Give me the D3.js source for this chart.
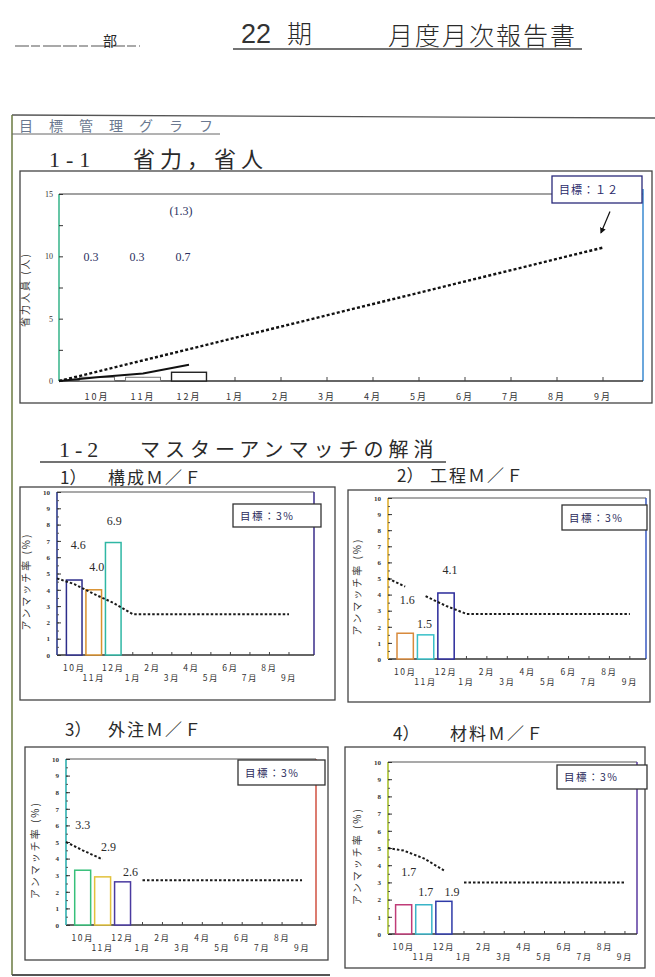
<!DOCTYPE html>
<html>
<head>
<meta charset="utf-8">
<script src="https://cdn.jsdelivr.net/npm/d3@7"></script>
<style>
  body { margin: 0; background: #fff; }
  svg { display: block; }
  text { font-family: "Noto Sans CJK JP", "Noto Sans", sans-serif; fill: #2a2a2a; }
  .num { font-family: "Liberation Serif", "DejaVu Serif", serif; }
</style>
</head>
<body>
<svg id="page" width="655" height="977"></svg>
<script>
// ---- data ----
const months = ["10月", "11月", "12月", "1月", "2月", "3月", "4月", "5月", "6月", "7月", "8月", "9月"];

// 1-1 省力，省人
const staffTicks = [0, 2.5, 5, 7.5, 10, 12.5, 15];
const staffSaved = [0.3, 0.3, 0.7];              // 10月, 11月, 12月
const staffSavedText = ["0.3", "0.3", "0.7"];
const staffTotalText = "(1.3)";
const staffActual = [0, 0.3, 0.6, 1.3];          // 起点, 10月, 11月, 12月
const staffPlan = [0, null, null, null, null, null, null, null, null, null, null, null, 10.7];
const staffGoalText = "目標：１２";

// 1-2 マスターアンマッチの解消
const rateTicks = [0, 1, 2, 3, 4, 5, 6, 7, 8, 9, 10];
const mfNos = ["1）", "2）", "3）", "4）"];
const mfNames = ["構成Ｍ／Ｆ", "工程Ｍ／Ｆ", "外注Ｍ／Ｆ", "材料Ｍ／Ｆ"];
const mfRates = [[4.6, 4.0, 6.9], [1.6, 1.5, 4.1], [3.3, 2.9, 2.6], [1.7, 1.7, 1.9]];
const mfRateText = [["4.6", "4.0", "6.9"], ["1.6", "1.5", "4.1"], ["3.3", "2.9", "2.6"], ["1.7", "1.7", "1.9"]];
// target lines: 起点, 10月 ... 9月
const mfTrendA = [
    [4.7, 4.35, 3.75, 3.2, 2.5, 2.5, 2.5, 2.5, 2.5, 2.5, 2.5, 2.5, 2.5],
    [5.0, 4.5, null, null, null, null, null, null, null, null, null, null, null],
    [5.0, 4.5, 3.95, null, null, null, null, null, null, null, null, null, null],
    [5.0, 4.85, 4.4, 3.7, null, null, null, null, null, null, null, null, null]
];
const mfTrendB = [
    [null, null, null, null, null, null, null, null, null, null, null, null, null],
    [null, null, 3.9, 3.3, 2.8, 2.8, 2.8, 2.8, 2.8, 2.8, 2.8, 2.8, 2.8],
    [null, null, null, null, 2.7, 2.7, 2.7, 2.7, 2.7, 2.7, 2.7, 2.7, 2.7],
    [null, null, null, null, 3.0, 3.0, 3.0, 3.0, 3.0, 3.0, 3.0, 3.0, 3.0]
];
const mfGoalText = "目標：3%";

// ---- layout ----
const mfLayout = [
    {box: [20, 487, 335, 700], plot: [57, 492, 314, 655], band: [66.4, 296.8], no: [60, 484], name: [108, 484],
     legend: [233, 504, 321, 527], lift: [35, 23, 22], nudge: [4, 3, 1],
     bars: ["#2d2d8a", "#d9912e", "#2fb7a4"], left: "#2d3a8a", right: "#3a2d8a"},
    {box: [348, 490, 650, 702], plot: [388, 498, 646, 659], band: [397, 638], no: [397, 482], name: [430, 482],
     legend: [562, 505, 647, 530], lift: [33, 11, 23], nudge: [2, -1, 4],
     bars: ["#d88a3c", "#39c0c8", "#2a2a9a"], left: "#e0b030", right: "#3a5ac0"},
    {box: [25, 747, 328, 960], plot: [66, 759, 316, 925], band: [74.7, 310], no: [65, 736], name: [108, 736],
     legend: [238, 760, 325, 785], lift: [45, 30, 10], nudge: [0, 6, 8],
     bars: ["#37c07a", "#e2c23c", "#4a3aa0"], left: "#30b0b0", right: "#d05040"},
    {box: [345, 747, 645, 968], plot: [388, 762, 637, 934], band: [395.6, 633], no: [393, 740], name: [450, 740],
     legend: [557, 765, 647, 789], lift: [33, 13, 9], nudge: [5, 2, 8],
     bars: ["#c03c78", "#3ab4c8", "#2e3aa8"], left: "#a8c030", right: "#5a3aa0"}
];

var svg = d3.select("#page");

svg.append("defs").append("marker")
    .attr("id", "arrow")
    .attr("viewBox", "0 0 10 10")
    .attr("refX", 8).attr("refY", 5)
    .attr("markerWidth", 5).attr("markerHeight", 5)
    .attr("orient", "auto")
    .append("path").attr("d", "M0,0L10,5L0,10z").attr("fill", "#111");

// header
svg.append("line").attr("x1", 15).attr("x2", 140).attr("y1", 46).attr("y2", 46)
    .attr("stroke", "#555").attr("stroke-width", 1.2).attr("stroke-dasharray", "14,2,9,3,18,2");
svg.append("text").attr("x", 103).attr("y", 46).style("font-size", "14px").text("部");
svg.append("text").attr("x", 241).attr("y", 43).style("font-family", "Liberation Sans, sans-serif")
    .style("font-size", "27px").style("font-weight", 300).style("fill", "#333").text("22");
svg.append("text").attr("x", 287).attr("y", 43).style("font-size", "25px").style("font-weight", 300).text("期");
svg.append("text").attr("x", 388).attr("y", 45).style("font-size", "25px").style("font-weight", 300)
    .style("letter-spacing", "2px").text("月度月次報告書");
svg.append("line").attr("x1", 233).attr("x2", 582).attr("y1", 49).attr("y2", 49)
    .attr("stroke", "#444").attr("stroke-width", 1.5);

// outer frame
svg.append("line").attr("x1", 12).attr("x2", 655).attr("y1", 115).attr("y2", 118).attr("stroke", "#555").attr("stroke-width", 1.3);
svg.append("line").attr("x1", 12).attr("x2", 12).attr("y1", 115).attr("y2", 975).attr("stroke", "#6a7a40").attr("stroke-width", 1.5);
svg.append("line").attr("x1", 12).attr("x2", 330).attr("y1", 975).attr("y2", 975).attr("stroke", "#555").attr("stroke-width", 2);

svg.append("text").attr("x", 19).attr("y", 131).style("font-size", "14px").style("letter-spacing", "16px")
    .style("fill", "#6a7890").text("目標管理グラフ");
svg.append("line").attr("x1", 12).attr("x2", 220).attr("y1", 134).attr("y2", 134).attr("stroke", "#666");

// section 1-1
svg.append("text").attr("class", "num").attr("x", 49).attr("y", 167).style("font-size", "22px")
    .style("letter-spacing", "6px").text("1-1");
svg.append("text").attr("x", 133).attr("y", 167).style("font-size", "22px").style("letter-spacing", "5px").text("省力，省人");

// ---- chart 1-1 ----
function drawStaff() {
    var left = 59, top = 194, right = 643, bottom = 381;

    svg.append("rect").attr("x", 20).attr("y", 171).attr("width", 632).attr("height", 232)
        .attr("fill", "none").attr("stroke", "#444").attr("stroke-width", 1.3);

    var x = d3.scaleBand().domain(months).range([74, 626]).paddingInner(0.24).paddingOuter(0.12);
    var y = d3.scaleLinear().domain([0, 15]).range([bottom, top]);
    var cx = function (i) { return i === 0 ? left : x(months[i - 1]) + x.bandwidth() / 2; };

    var g = svg.append("g");

    // frame
    g.append("line").attr("x1", left).attr("x2", right).attr("y1", top).attr("y2", top).attr("stroke", "#444").attr("stroke-width", 1.2);
    g.append("line").attr("x1", right).attr("x2", right).attr("y1", top - 5).attr("y2", bottom).attr("stroke", "#3a8ad0").attr("stroke-width", 1.5);
    g.append("line").attr("x1", left).attr("x2", right).attr("y1", bottom).attr("y2", bottom).attr("stroke", "#333").attr("stroke-width", 1.3);
    g.append("line").attr("x1", left).attr("x2", left).attr("y1", top).attr("y2", bottom).attr("stroke", "#40b890").attr("stroke-width", 1.6);

    g.append("g")
        .attr("transform", "translate(" + left + ",0)")
        .call(d3.axisLeft(y).tickValues(staffTicks).tickSize(-4).tickPadding(6)
            .tickFormat(function (d) { return d % 5 === 0 ? d : ""; }))
        .call(function (a) { a.select(".domain").remove(); })
        .call(function (a) { a.selectAll("line").attr("stroke", "#333"); })
        .call(function (a) { a.selectAll("text").attr("class", "num").style("font-size", "8px").style("fill", "#333"); });

    g.append("g")
        .attr("transform", "translate(0," + bottom + ")")
        .call(d3.axisBottom(x).tickSize(-4).tickPadding(13))
        .call(function (a) { a.select(".domain").remove(); })
        .call(function (a) { a.selectAll("line").attr("stroke", "#444"); })
        .call(function (a) { a.selectAll("text").style("font-size", "9px").style("letter-spacing", "2px").style("fill", "#333"); });

    g.append("text")
        .attr("transform", "translate(29," + ((top + bottom) / 2 + 2) + ") rotate(-90)")
        .style("text-anchor", "middle").style("font-size", "10px").style("letter-spacing", "2px").style("fill", "#333")
        .text("省力人員 (人)");

    // bars
    g.selectAll(".bar")
        .data(staffSaved)
        .join("rect")
        .attr("class", "bar")
        .attr("x", function (d, i) { return x(months[i]); })
        .attr("y", function (d) { return y(d); })
        .attr("width", x.bandwidth())
        .attr("height", function (d) { return bottom - y(d); })
        .attr("fill", "#fff")
        .attr("stroke", function (d, i) { return i === 2 ? "#222" : "#777"; })
        .attr("stroke-width", function (d, i) { return i === 2 ? 1.4 : 1; });

    // plan (dotted) and actual (solid)
    var line = d3.line()
        .defined(function (d) { return d.v != null; })
        .x(function (d) { return cx(d.i); })
        .y(function (d) { return y(d.v); });

    var planPts = staffPlan.map(function (v, i) { return {i: i, v: v}; }).filter(line.defined());
    g.append("path").datum(planPts).attr("d", line)
        .attr("fill", "none").attr("stroke", "#111").attr("stroke-width", 2.4).attr("stroke-dasharray", "3,2.2");

    var actPts = staffActual.map(function (v, i) { return {i: i, v: v}; });
    g.append("path").datum(actPts).attr("d", line)
        .attr("fill", "none").attr("stroke", "#111").attr("stroke-width", 2);

    // arrow to the year end target
    var endX = cx(12);
    g.append("line")
        .attr("x1", endX + 7).attr("y1", y(13.6))
        .attr("x2", endX - 2).attr("y2", y(11.9))
        .attr("stroke", "#111").attr("stroke-width", 1.2)
        .attr("marker-end", "url(#arrow)");

    // labels
    g.selectAll(".lbl")
        .data(staffSavedText)
        .join("text")
        .attr("class", "num")
        .attr("x", function (d, i) { return cx(i + 1) - 6; })
        .attr("y", y(9.6))
        .style("text-anchor", "middle").style("font-size", "12px").style("fill", "#2a3060")
        .text(function (d) { return d; });
    g.append("text").attr("class", "num")
        .attr("x", cx(3) - 8).attr("y", y(13.3))
        .style("text-anchor", "middle").style("font-size", "12px").style("fill", "#2a3060")
        .text(staffTotalText);

    // goal box
    g.append("rect").attr("x", 552).attr("y", 176).attr("width", 90).attr("height", 27)
        .attr("fill", "#fff").attr("stroke", "#2a2a7a").attr("stroke-width", 1.3);
    g.append("text").attr("x", 559).attr("y", 194).style("font-size", "11px").style("letter-spacing", "1px")
        .style("fill", "#2a2a6a").text(staffGoalText);
}
drawStaff();

// section 1-2
svg.append("text").attr("class", "num").attr("x", 59).attr("y", 457).style("font-size", "22px")
    .style("letter-spacing", "5px").text("1-2");
svg.append("text").attr("x", 140).attr("y", 457).style("font-size", "20px").style("letter-spacing", "5px")
    .text("マスターアンマッチの解消");
svg.append("line").attr("x1", 40).attr("x2", 446).attr("y1", 462).attr("y2", 462).attr("stroke", "#444").attr("stroke-width", 1.3);

// ---- small charts ----
function drawMF(c) {
    var L = mfLayout[c];
    var left = L.plot[0], top = L.plot[1], right = L.plot[2], bottom = L.plot[3];

    svg.append("text").attr("x", L.no[0]).attr("y", L.no[1]).style("font-size", "17px").text(mfNos[c]);
    svg.append("text").attr("x", L.name[0]).attr("y", L.name[1]).style("font-size", "17px")
        .style("letter-spacing", "2px").text(mfNames[c]);

    svg.append("rect")
        .attr("x", L.box[0]).attr("y", L.box[1])
        .attr("width", L.box[2] - L.box[0]).attr("height", L.box[3] - L.box[1])
        .attr("fill", "none").attr("stroke", "#444").attr("stroke-width", 1.3);

    var x = d3.scaleBand().domain(months).range(L.band).padding(0.2).paddingOuter(0);
    var y = d3.scaleLinear().domain([0, 10]).range([bottom, top]);
    var cx = function (i) { return i === 0 ? left : x(months[i - 1]) + x.bandwidth() / 2; };

    var g = svg.append("g");

    g.append("line").attr("x1", left).attr("x2", right).attr("y1", top).attr("y2", top).attr("stroke", "#555").attr("stroke-width", 1.2);
    g.append("line").attr("x1", right).attr("x2", right).attr("y1", top).attr("y2", bottom).attr("stroke", L.right).attr("stroke-width", 1.5);
    g.append("line").attr("x1", left).attr("x2", right).attr("y1", bottom).attr("y2", bottom).attr("stroke", "#333").attr("stroke-width", 1.3);
    g.append("line").attr("x1", left).attr("x2", left).attr("y1", top).attr("y2", bottom).attr("stroke", L.left).attr("stroke-width", 1.6);

    // minor y ticks
    g.append("g")
        .attr("transform", "translate(" + left + ",0)")
        .call(d3.axisLeft(y).ticks(20).tickSize(-2).tickFormat(""))
        .call(function (a) { a.select(".domain").remove(); })
        .call(function (a) { a.selectAll("line").attr("stroke", "#555"); });

    g.append("g")
        .attr("transform", "translate(" + left + ",0)")
        .call(d3.axisLeft(y).tickValues(rateTicks).tickSize(-4).tickPadding(7))
        .call(function (a) { a.select(".domain").remove(); })
        .call(function (a) { a.selectAll("line").attr("stroke", "#333"); })
        .call(function (a) { a.selectAll("text").attr("class", "num").style("font-size", "7px").style("font-weight", "bold").style("fill", "#333"); });

    g.append("g")
        .attr("transform", "translate(0," + bottom + ")")
        .call(d3.axisBottom(x).tickSize(-3).tickPadding(10))
        .call(function (a) { a.select(".domain").remove(); })
        .call(function (a) { a.selectAll("line").attr("stroke", "#444"); })
        .call(function (a) {
            a.selectAll("text")
                .style("font-size", "8.5px").style("letter-spacing", "1.5px").style("fill", "#333")
                .attr("y", function (d, i) { return i % 2 === 0 ? 10 : 20; });
        });

    g.append("text")
        .attr("transform", "translate(" + (left - 27) + "," + ((top + bottom) / 2 + 8) + ") rotate(-90)")
        .style("text-anchor", "middle").style("font-size", "10px").style("letter-spacing", "2px").style("fill", "#333")
        .text("アンマッチ率 (%)");

    // bars
    g.selectAll(".bar")
        .data(mfRates[c])
        .join("rect")
        .attr("class", "bar")
        .attr("x", function (d, i) { return x(months[i]); })
        .attr("y", function (d) { return y(d); })
        .attr("width", x.bandwidth())
        .attr("height", function (d) { return bottom - y(d); })
        .attr("fill", "#fff")
        .attr("stroke", function (d, i) { return L.bars[i]; })
        .attr("stroke-width", 1.5);

    // target lines
    var line = d3.line()
        .defined(function (d) { return d.v != null; })
        .x(function (d) { return cx(d.i); })
        .y(function (d) { return y(d.v); });

    [mfTrendA[c], mfTrendB[c]].forEach(function (series) {
        var pts = series.map(function (v, i) { return {i: i, v: v}; });
        g.append("path").datum(pts).attr("d", line)
            .attr("fill", "none").attr("stroke", "#1a1a1a").attr("stroke-width", 2)
            .attr("stroke-dasharray", "2.5,2");
    });

    // value labels
    g.selectAll(".lbl")
        .data(mfRateText[c])
        .join("text")
        .attr("class", "num")
        .attr("x", function (d, i) { return cx(i + 1) + L.nudge[i]; })
        .attr("y", function (d, i) { return y(mfRates[c][i]) - L.lift[i] + 4; })
        .style("text-anchor", "middle").style("font-size", "12px").style("fill", "#2a2a2a")
        .text(function (d) { return d; });

    // goal box
    g.append("rect")
        .attr("x", L.legend[0]).attr("y", L.legend[1])
        .attr("width", L.legend[2] - L.legend[0]).attr("height", L.legend[3] - L.legend[1])
        .attr("fill", "#fff").attr("stroke", "#333").attr("stroke-width", 1.3);
    g.append("text")
        .attr("x", L.legend[0] + 7).attr("y", (L.legend[1] + L.legend[3]) / 2 + 4)
        .style("font-size", "10.5px").style("letter-spacing", "1.5px").style("fill", "#2a2a5a")
        .text(mfGoalText);
}

for (var c = 0; c < mfLayout.length; c++) drawMF(c);
</script>
</body>
</html>
